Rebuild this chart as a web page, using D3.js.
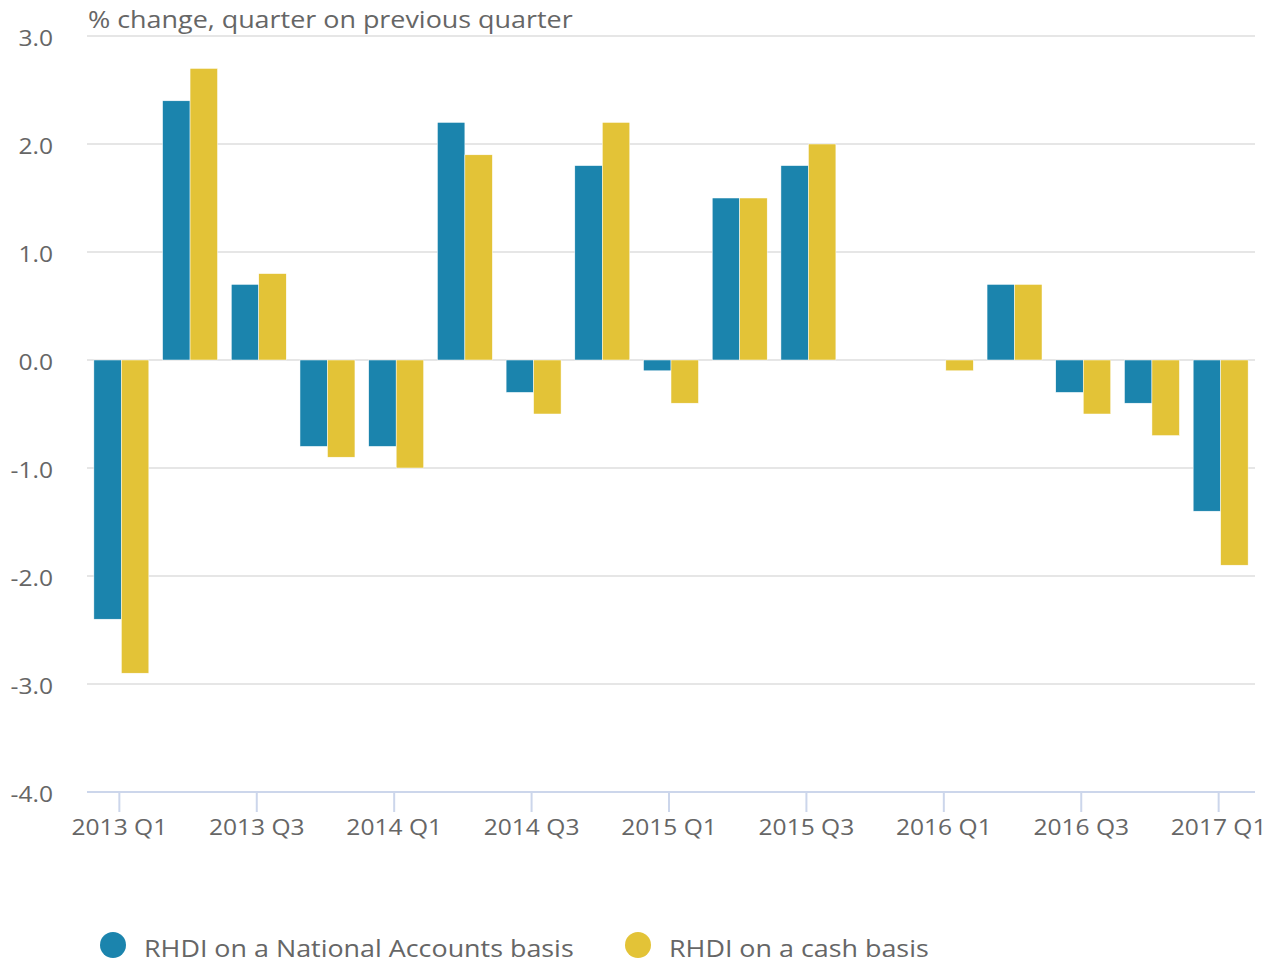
<!DOCTYPE html>
<html>
<head>
<meta charset="utf-8">
<script src="https://cdn.jsdelivr.net/npm/d3@7"></script>
<style>
  body { margin: 0; background: #fff; }
  svg text { font-family: "Open Sans", sans-serif; fill: #666; }
</style>
</head>
<body>
<svg id="chart" width="1274" height="962"></svg>
<script>
// quarters shown along the x axis
const quarters = ["2013 Q1","2013 Q2","2013 Q3","2013 Q4","2014 Q1","2014 Q2","2014 Q3","2014 Q4",
  "2015 Q1","2015 Q2","2015 Q3","2015 Q4","2016 Q1","2016 Q2","2016 Q3","2016 Q4","2017 Q1"];
const nationalAccounts = [-2.4, 2.4, 0.7, -0.8, -0.8, 2.2, -0.3, 1.8, -0.1, 1.5, 1.8, 0.0, 0.0, 0.7, -0.3, -0.4, -1.4];
const cashBasis = [-2.9, 2.7, 0.8, -0.9, -1.0, 1.9, -0.5, 2.2, -0.4, 1.5, 2.0, 0.0, -0.1, 0.7, -0.5, -0.7, -1.9];
const seriesNames = ["RHDI on a National Accounts basis", "RHDI on a cash basis"];
const yTicks = [3, 2, 1, 0, -1, -2, -3, -4];
const xTickLabels = ["2013 Q1","2013 Q3","2014 Q1","2014 Q3","2015 Q1","2015 Q3","2016 Q1","2016 Q3","2017 Q1"];

(function() {
const colors = ["#1b84ad", "#e3c337"];
const svg = d3.select("#chart");
const plotLeft = 87, plotRight = 1255, plotTop = 36, plotBottom = 792;
const stretch = 1.17; // the text in the original is a bit wider than plain Open Sans

const x = d3.scaleBand().domain(quarters).range([plotLeft, plotRight]).paddingInner(0.2).paddingOuter(0.1);
const xSub = d3.scaleBand().domain([0, 1]).range([0, x.bandwidth()]);
const y = d3.scaleLinear().domain([-4, 3]).range([plotBottom, plotTop]);

// gridlines
svg.append("g").selectAll("line")
  .data(yTicks.filter(d => d > -4))
  .join("line")
  .attr("x1", plotLeft).attr("x2", plotRight)
  .attr("y1", d => y(d)).attr("y2", d => y(d))
  .attr("stroke", "#e6e6e6").attr("stroke-width", 2);

// y labels
svg.append("g").selectAll("g")
  .data(yTicks)
  .join("g")
  .attr("transform", d => `translate(53,${y(d) + 10}) scale(${stretch},1)`)
  .append("text")
  .attr("text-anchor", "end")
  .attr("font-size", 21)
  .text(d => d3.format(".1f")(d).replace("\u2212", "-"));

// axis title
svg.append("g")
  .attr("transform", `translate(88,28) scale(${stretch},1)`)
  .append("text")
  .attr("font-size", 23)
  .text("% change, quarter on previous quarter");

// bars
const series = [nationalAccounts, cashBasis];
series.forEach((vals, s) => {
  svg.append("g").selectAll("rect")
    .data(vals.map((v, i) => ({q: quarters[i], v})))
    .join("rect")
    .attr("x", d => x(d.q) + xSub(s))
    .attr("width", xSub.bandwidth())
    .attr("y", d => y(Math.max(0, d.v)))
    .attr("height", d => Math.abs(y(d.v) - y(0)))
    .attr("fill", colors[s])
    .attr("stroke", "#fff").attr("stroke-width", 0.5);
});

// x axis line
svg.append("line")
  .attr("x1", plotLeft).attr("x2", plotRight)
  .attr("y1", plotBottom).attr("y2", plotBottom)
  .attr("stroke", "#ccd6eb").attr("stroke-width", 2);

const xt = svg.append("g").selectAll("g")
  .data(xTickLabels)
  .join("g")
  .attr("transform", d => `translate(${x(d) + x.bandwidth() / 2 - 2},${plotBottom})`);
xt.append("line").attr("y1", 0).attr("y2", 20).attr("stroke", "#ccd6eb").attr("stroke-width", 2);
xt.append("text")
  .attr("transform", `translate(0,43) scale(${stretch},1)`)
  .attr("text-anchor", "middle").attr("font-size", 21).text(d => d);

// legend
const legendX = [113, 638];
const lg = svg.append("g").selectAll("g")
  .data(seriesNames)
  .join("g")
  .attr("transform", (d, i) => `translate(${legendX[i]},945)`);
lg.append("circle").attr("r", 13).attr("fill", (d, i) => colors[i]);
lg.append("text")
  .attr("transform", "translate(31,12) scale(1.12,1)")
  .attr("font-size", 24).text(d => d);
})();
</script>
</body>
</html>
